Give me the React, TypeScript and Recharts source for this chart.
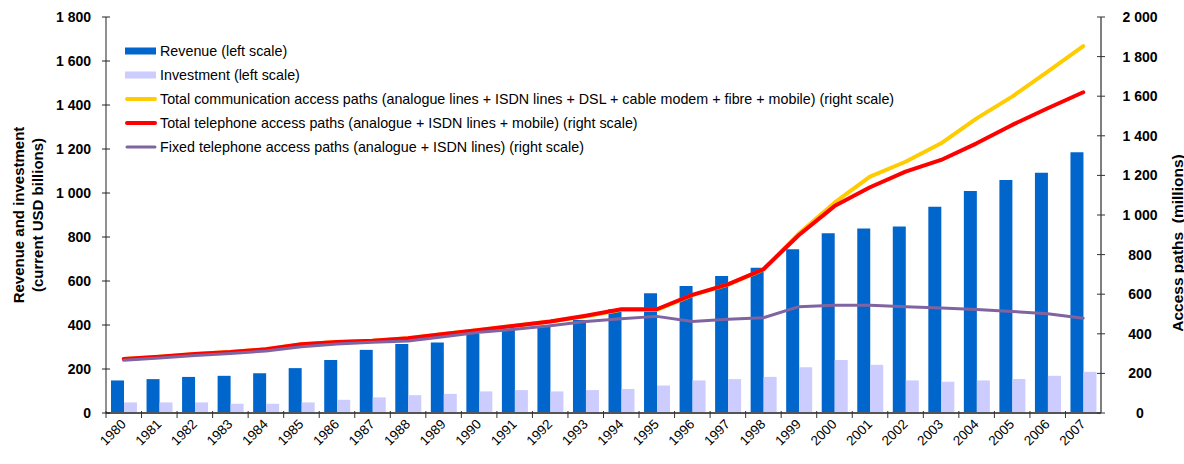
import React from "react";
import { ComposedChart, Bar, Line, XAxis, YAxis, Legend } from "recharts";

const years = [
  "1980", "1981", "1982", "1983", "1984", "1985", "1986", "1987", "1988", "1989",
  "1990", "1991", "1992", "1993", "1994", "1995", "1996", "1997", "1998", "1999",
  "2000", "2001", "2002", "2003", "2004", "2005", "2006", "2007",
];

// left scale, current USD billions
const revenue = [
  148, 154, 164, 169, 181, 204, 241, 287, 314, 320,
  359, 377, 392, 423, 473, 544, 577, 623, 660, 744,
  817, 839, 848, 938, 1009, 1059, 1092, 1185,
];
const investment = [
  48, 48, 48, 42, 42, 48, 60, 71, 81, 87,
  98, 104, 98, 104, 109, 125, 148, 154, 164, 208,
  241, 219, 148, 142, 148, 154, 169, 187,
];

// right scale, millions
const totalCommPaths = [
  273, 284, 298, 308, 322, 347, 359, 365, 377, 399,
  419, 441, 462, 489, 521, 521, 595, 648, 724, 907,
  1062, 1194, 1269, 1362, 1488, 1598, 1724, 1853,
];
const totalPhonePaths = [
  273, 284, 298, 308, 322, 347, 359, 365, 377, 399,
  419, 441, 462, 491, 524, 524, 597, 650, 726, 899,
  1045, 1140, 1219, 1278, 1362, 1455, 1539, 1620,
];
const fixedPhonePaths = [
  266, 278, 291, 301, 313, 335, 348, 357, 364, 385,
  408, 423, 441, 462, 476, 488, 462, 473, 481, 537,
  544, 544, 536, 530, 523, 513, 501, 479,
];

const leftTicks = [0, 200, 400, 600, 800, 1000, 1200, 1400, 1600, 1800];
const rightTicks = [0, 200, 400, 600, 800, 1000, 1200, 1400, 1600, 1800, 2000];

const legendOrder = ["revenue", "investment", "totalComm", "totalPhone", "fixedPhone"];

const data = years.map((year, i) => ({
  year,
  revenue: revenue[i],
  investment: investment[i],
  totalComm: totalCommPaths[i],
  totalPhone: totalPhonePaths[i],
  fixedPhone: fixedPhonePaths[i],
}));

const W = 1184;
const H = 464;
const PLOT_LEFT = 106;
const PLOT_RIGHT = 1101;
const PLOT_TOP = 17;
const PLOT_BOTTOM = 413;
const BAND = (PLOT_RIGHT - PLOT_LEFT) / years.length;
const FONT = "'Liberation Sans', Arial, sans-serif";

const fmt = (v: number) =>
  v >= 1000 ? `${Math.floor(v / 1000)} ${String(v % 1000).padStart(3, "0")}` : String(v);

const LeftTick = ({ y, payload }: any) => (
  <g>
    <line x1={PLOT_LEFT - 4} x2={PLOT_LEFT + 4} y1={y} y2={y} stroke="#222" strokeWidth={1} />
    <text x={91} y={y} textAnchor="end" dominantBaseline="central" fontSize={14} fontWeight="bold" fontFamily={FONT} fill="#000">
      {fmt(payload.value)}
    </text>
  </g>
);

const RightTick = ({ y, payload }: any) => (
  <g>
    <line x1={PLOT_RIGHT - 4} x2={PLOT_RIGHT + 4} y1={y} y2={y} stroke="#333" strokeWidth={1} />
    <text x={1140} y={y} textAnchor="middle" dominantBaseline="central" fontSize={14} fontWeight="bold" fontFamily={FONT} fill="#000">
      {fmt(payload.value)}
    </text>
  </g>
);

const XTick = ({ x, payload }: any) => {
  const tx = x + 3;
  const ty = PLOT_BOTTOM + 12;
  const bx = x - BAND / 2;
  return (
    <g>
      <line x1={bx} x2={bx} y1={PLOT_BOTTOM - 2} y2={PLOT_BOTTOM + 5} stroke="#333" strokeWidth={1} />
      <text x={tx} y={ty} textAnchor="end" transform={`rotate(-45, ${tx}, ${ty})`} fontSize={13.5} fontFamily={FONT} fill="#000">
        {payload.value}
      </text>
    </g>
  );
};

const LeftTitle = () => (
  <g fontFamily={FONT} fontSize={15} fontWeight="bold" fill="#000">
    <text x={18} y={215} textAnchor="middle" dominantBaseline="central" transform="rotate(-90, 18, 215)">
      Revenue and investment
    </text>
    <text x={37} y={215} textAnchor="middle" dominantBaseline="central" transform="rotate(-90, 37, 215)">
      (current USD billions)
    </text>
  </g>
);

const RightTitle = () => (
  <text x={1177} y={243} textAnchor="middle" dominantBaseline="central" transform="rotate(-90, 1177, 243)"
    fontFamily={FONT} fontSize={15.5} fontWeight="bold" fill="#000" style={{ whiteSpace: "pre" }}>
    {"Access paths  (millions)"}
  </text>
);

const renderLegend = ({ payload }: any) => {
  const items = [...(payload || [])].sort(
    (a: any, b: any) => legendOrder.indexOf(a.dataKey) - legendOrder.indexOf(b.dataKey)
  );
  return (
    <div style={{ fontFamily: FONT, fontSize: 14.3, color: "#000" }}>
      {items.map((entry: any) => (
        <div key={entry.dataKey} style={{ display: "flex", alignItems: "center", height: 24 }}>
          <svg width={32} height={10} style={{ marginRight: 3 }}>
            {entry.type === "rect" ? (
              <rect x={0} y={1.5} width={31} height={7} fill={entry.color} />
            ) : (
              <line x1={2} x2={30} y1={5} y2={5} stroke={entry.color}
                strokeWidth={entry.dataKey === "fixedPhone" ? 3 : 4} strokeLinecap="round" />
            )}
          </svg>
          <span style={{ whiteSpace: "nowrap" }}>{entry.value}</span>
        </div>
      ))}
    </div>
  );
};

export default function App() {
  return (
    <div style={{ position: "absolute", left: 0, top: 0, width: W, height: H, background: "#fff" }}>
      <ComposedChart
        width={W}
        height={H}
        data={data}
        margin={{ top: PLOT_TOP, right: 0, bottom: 0, left: 0 }}
        barCategoryGap={5}
        barGap={0}
      >
        <XAxis
          dataKey="year"
          height={H - PLOT_BOTTOM}
          interval={0}
          tickLine={false}
          tick={<XTick />}
          axisLine={{ stroke: "#555", strokeWidth: 2 }}
        />
        <YAxis
          yAxisId="left"
          orientation="left"
          width={PLOT_LEFT}
          domain={[0, 1800]}
          ticks={leftTicks}
          interval={0}
          tickLine={false}
          tick={<LeftTick />}
          axisLine={{ stroke: "#222", strokeWidth: 1 }}
          label={{ content: () => <LeftTitle /> }}
        />
        <YAxis
          yAxisId="right"
          orientation="right"
          width={W - PLOT_RIGHT}
          domain={[0, 2000]}
          ticks={rightTicks}
          interval={0}
          tickLine={false}
          tick={<RightTick />}
          axisLine={{ stroke: "#555", strokeWidth: 1.5 }}
          label={{ content: () => <RightTitle /> }}
        />
        <Legend
          content={renderLegend}
          layout="vertical"
          align="center"
          verticalAlign="middle"
          wrapperStyle={{ left: 125, top: 39, width: 900 }}
        />
        <Bar yAxisId="left" dataKey="revenue" name="Revenue (left scale)" fill="#0066CC" legendType="rect" isAnimationActive={false} />
        <Bar yAxisId="left" dataKey="investment" name="Investment (left scale)" fill="#CCCCFF" legendType="rect" isAnimationActive={false} />
        <Line
          yAxisId="right"
          type="linear"
          dataKey="totalComm"
          name="Total communication access paths (analogue lines + ISDN lines + DSL + cable modem + fibre + mobile) (right scale)"
          stroke="#FFCC00"
          strokeWidth={4}
          strokeLinecap="round"
          strokeLinejoin="round"
          dot={false}
          legendType="line"
          isAnimationActive={false}
        />
        <Line
          yAxisId="right"
          type="linear"
          dataKey="totalPhone"
          name="Total telephone access paths (analogue + ISDN lines + mobile) (right scale)"
          stroke="#FF0000"
          strokeWidth={4}
          strokeLinecap="round"
          strokeLinejoin="round"
          dot={false}
          legendType="line"
          isAnimationActive={false}
        />
        <Line
          yAxisId="right"
          type="linear"
          dataKey="fixedPhone"
          name="Fixed telephone access paths (analogue + ISDN lines) (right scale)"
          stroke="#8064A2"
          strokeWidth={3}
          strokeLinecap="round"
          strokeLinejoin="round"
          dot={false}
          legendType="line"
          isAnimationActive={false}
        />
      </ComposedChart>
    </div>
  );
}
